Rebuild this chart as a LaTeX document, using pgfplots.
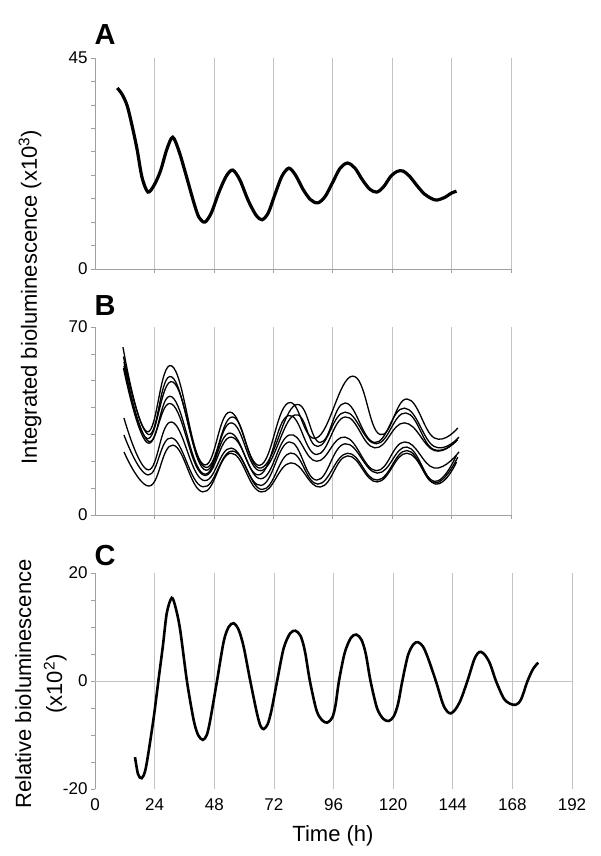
\documentclass[border=0pt]{standalone}
\usepackage{fontspec}
\setmainfont{Liberation Sans}
\usepackage{pgfplots}
\pgfplotsset{compat=1.18}
\definecolor{gridc}{RGB}{195,195,195}
\definecolor{axc}{RGB}{160,160,160}
\pgfplotsset{
  base/.style={
    scale only axis, anchor=south west, clip=false,
    axis y line*=left, axis x line*=bottom,
    axis line style={-, draw=axc, line width=0.7pt},
    tick align=outside, major tick length=4pt, minor tick length=4pt,
    tick style={draw=axc, line width=0.6pt},
    xmajorgrids, grid style={draw=gridc, line width=0.7pt},
    /pgf/number format/assume math mode=true,
    ticklabel style={font=\fontsize{17}{18}\selectfont},
    xmin=0,
  },
  bline/.style={black, line width=1.3pt, smooth, tension=0.75},
}
\begin{document}
\begin{tikzpicture}[x=1pt,y=1pt]
\path[use as bounding box] (0,0) rectangle (600,856);

% Panel A
\begin{axis}[base, at={(95pt,587pt)}, width=416pt, height=211pt,
  xmax=168, ymin=0, ymax=45,
  xtick={24,48,...,168}, xticklabels={},
  ytick={0,45}, minor ytick={5,10,...,40}]
\addplot[black, line width=3.2pt, smooth] coordinates {
(9,38.6)(11,37.2)(13,34.8)(15,30.5)(17,25.5)(19,19.5)(21.4,16.4)(24,18)(26.5,21)(29,25.5)(31.4,28.1)(34,25)(37,19.6)(40,14)(42,11)(44.4,10.0)(47,12)(50,16.3)(53,19.8)(55.6,21.1)(58.5,19)(61.8,14.7)(65,11.5)(67.5,10.5)(70,12)(72.6,15.8)(75.5,19.8)(78.3,21.5)(81,20)(84,17)(87,14.8)(90,14.1)(93,15.5)(96,18.5)(99,21.5)(102,22.6)(105,21.5)(108,19)(111,17)(113.8,16.4)(116.5,17.5)(119.5,19.8)(122,20.8)(124.3,20.9)(127,19.8)(130,17.8)(133,16)(136,15)(138,14.7)(141,15.2)(144,16.2)(146,16.6)};
\end{axis}

% Panel B
\begin{axis}[base, at={(95pt,341pt)}, width=416pt, height=188pt,
  xmax=168, ymin=0, ymax=70,
  xtick={24,48,...,168}, xticklabels={},
  ytick={0,70}, minor ytick={10,20,...,60}]
\addplot[bline] coordinates {(11.3,62.5)(21,31)(31,55.5)(43.5,19)(54.5,38.3)(66.5,18.5)(78,41.7)(89.5,28.7)(104,51.7)(115,30)(126,43.2)(137,28.7)(146.5,32.4)};
\addplot[bline] coordinates {(11.5,59)(21.5,30)(31,51.4)(44,18)(55.5,36.5)(67,17.5)(81,41)(91,27)(101,41.7)(113,27)(125,39.8)(137,25.5)(147,29)};
\addplot[bline] coordinates {(11.7,57)(21,28.5)(31.5,49.5)(44,17)(55,34.3)(67,16.5)(80.5,37.2)(90,25.5)(101,38.3)(113.5,26.5)(125.5,38)(136.5,24.5)(146.5,28)};
\addplot[bline] coordinates {(11.7,55.5)(21.5,27.5)(31,44)(43.5,15.5)(54.5,30.5)(66.5,15)(78,37)(89.5,22.5)(101,36.5)(113,25)(125,34.3)(137,24)(146,27.8)};
\addplot[bline] coordinates {(11.5,54.7)(21,27)(31,41.3)(43.5,15)(55,29)(67,13.5)(78.5,29.8)(89.5,20)(101,29)(113.5,16.5)(125,27.2)(137,17.5)(147,23.5)};
\addplot[bline] coordinates {(11.7,36.1)(21.5,16.8)(31,34.6)(43.5,13)(55,24.9)(67,11)(78.5,27.2)(89.5,13)(101,26.5)(114,15.6)(126,25.3)(137,12.5)(146,22.3)};
\addplot[bline] coordinates {(11.7,29.8)(21.5,14.9)(31,28.7)(43.5,10.5)(55.5,23.8)(67.5,9.5)(79,23.1)(90,11.5)(102,23)(114,13)(126,24)(137,11.9)(146.5,21.5)};
\addplot[bline] coordinates {(11.7,23.5)(22,10.8)(31.5,26)(43.5,8.6)(55,23)(67,8.6)(79,19.4)(91,10.4)(102,22)(114,12.3)(126,23)(137.5,11.5)(146,19.7)};
\end{axis}

% Panel C
\begin{axis}[base, at={(95pt,67pt)}, width=477pt, height=216pt,
  xmax=192, ymin=-20, ymax=20,
  x axis line style={draw=none}, xtick style={draw=none},
  xtick={0,24,...,192}, xticklabel style={yshift=-2pt},
  ytick={-20,0,20}, minor ytick={-15,-10,-5,5,10,15},
  extra y ticks={0}, extra y tick labels={},
  extra y tick style={ymajorgrids=true, major grid style={draw=gridc, line width=0.7pt}}]
\addplot[black, line width=2.6pt, smooth] coordinates {
(16.1,-14.1)(17.3,-17.2)(18.8,-18.0)(20.5,-16)(23.5,-7.2)(25.5,0)(27.3,6.4)(28.9,12.6)(30.9,15.4)(32.5,13.5)(34.3,9.4)(37,0)(39.7,-7.2)(41.5,-10)(43.4,-10.9)(45,-10)(46.4,-7.2)(49.1,0)(51.8,7.3)(53.8,10)(55.8,10.7)(57.8,9.5)(59.8,6.4)(62.5,0)(65.2,-6)(66.6,-8.3)(67.9,-8.9)(69.5,-8)(71,-5.5)(73.3,0)(75.9,6)(78.5,8.8)(80.7,9.3)(82.8,8.3)(84.5,5.5)(86.5,0)(89.2,-5.5)(91.5,-7.3)(93.5,-7.7)(95.5,-6.8)(96.8,-4.5)(98.2,0)(100.5,5.2)(103,8)(105.2,8.6)(107.3,7.6)(109,5)(110.9,0)(113.5,-5)(116,-7)(118.3,-7.4)(120.3,-6.5)(122,-4.2)(123.7,0)(126,4.8)(128.2,6.8)(130,7.2)(132,6.4)(134,4.3)(137.2,0)(140,-4.2)(141.7,-5.6)(143.2,-6.0)(145,-5.3)(147.2,-3.5)(149.9,0)(152.5,3.8)(154,5.1)(155.3,5.4)(157,4.8)(159,3.2)(161.4,0)(164.5,-3.2)(167,-4.2)(169.4,-4.4)(171.5,-3.4)(174.1,0)(176.3,2.2)(178.4,3.4)};
\end{axis}

% Labels
\node[font=\bfseries\fontsize{29}{30}\selectfont] at (105,821) {A};
\node[font=\bfseries\fontsize{29}{30}\selectfont] at (105,550) {B};
\node[font=\bfseries\fontsize{29}{30}\selectfont] at (105,300) {C};
\node[rotate=90, font=\fontsize{22}{24}\selectfont] at (30,559) {Integrated bioluminescence (x10\textsuperscript{3})};
\node[rotate=90, align=center, font=\fontsize{22}{31}\selectfont] at (41,172) {Relative bioluminescence\\(x10\textsuperscript{2})};
\node[font=\fontsize{22}{24}\selectfont] at (333,20) {Time (h)};
\end{tikzpicture}
\end{document}
